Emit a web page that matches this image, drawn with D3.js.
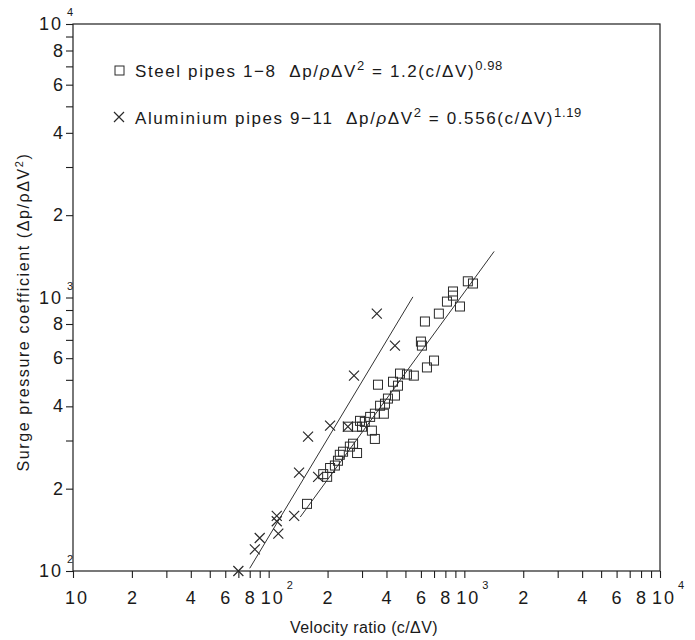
<!DOCTYPE html>
<html><head><meta charset="utf-8">
<script src="https://cdn.jsdelivr.net/npm/d3@7"></script>
<style>
body{margin:0;background:#fff}
text{font-family:"Liberation Sans",Arial,sans-serif;fill:#1a1a1a}
</style>
</head><body><svg id="c" width="695" height="640"></svg>
<script>
// Steel pipes 1-8 (squares)
const steelX = [157,190,199,206,218,226,231,240,260,270,283,254,283,300,293,310,330,337,349,349,388,371,393,407,442,362,432,458,469,509,552,644,700,600,607,629,741,815,950,875,875,1042,1107];
const steelY = [176,226,221,238,243,253,266,273,285,292,270,337,337,337,354,351,366,326,304,376,376,402,409,427,438,480,492,476,527,523,518,555,588,690,667,817,873,966,927,1052,1016,1146,1125];
// Aluminium pipes 9-11 (crosses)
const aluX = [70,85,90,112,110,110,135,143,179,159,206,254,273,357,442];
const aluY = [100,120,132,137,159,152,159,229,221,310,340,337,518,873,667];
// fitted lines  dp/rho dV^2 = a (c/dV)^b
const steelFit = {a:1.2, b:0.98, from:145, to:1420};
const aluFit = {a:0.556, b:1.19, from:80, to:546};
// tick labels
const xLabelVals = [10,20,40,60,80,100,200,400,600,800,1000,2000,4000,6000,8000,10000];
const xLabelBase = ["10","2","4","6","8","10","2","4","6","8","10","2","4","6","8","10"];
const xLabelExp  = ["","","","","","2","","","","","3","","","","","4"];
const yLabelVals = [100,200,400,600,800,1000,2000,4000,6000,8000,10000];
const yLabelBase = ["10","2","4","6","8","10","2","4","6","8","10"];
const yLabelExp  = ["2","","","","","3","","","","","4"];

const svg = d3.select("#c");
const L=73, R=660, T=24, B=571;
const x = d3.scaleLog().domain([10,10000]).range([L,R]);
const y = d3.scaleLog().domain([100,10000]).range([B,T]);
const ink="#1f1f1f";

const allTicks=[];
for(let d=10; d<10000; d*=10) for(let m=1;m<10;m++) allTicks.push(d*m);
allTicks.push(10000);
const yTicks = allTicks.filter(v=>v>=100);

const gx = svg.append("g").attr("transform",`translate(0,${B})`)
  .call(d3.axisBottom(x).tickValues(allTicks).tickSize(7).tickFormat(""));
const gy = svg.append("g").attr("transform",`translate(${L},0)`)
  .call(d3.axisLeft(y).tickValues(yTicks).tickSize(7).tickFormat(""));
[gx,gy].forEach(g=>{g.selectAll("path").remove(); g.selectAll("line").attr("stroke",ink).attr("stroke-width",1.1);});

// frame
svg.append("rect").attr("x",L).attr("y",T).attr("width",R-L).attr("height",B-T)
  .attr("fill","none").attr("stroke",ink).attr("stroke-width",1.2);

// x tick labels
xLabelVals.forEach((v,i)=>{
  const px = x(v) + (xLabelBase[i]==="10"?4:0);
  svg.append("text").attr("x",px).attr("y",604).attr("text-anchor","middle")
    .attr("font-size",18).attr("letter-spacing",xLabelBase[i]==="10"?2:0).text(xLabelBase[i]);
  if(xLabelExp[i]) svg.append("text").attr("x",px+14).attr("y",589).attr("font-size",11).text(xLabelExp[i]);
});
// y tick labels
yLabelVals.forEach((v,i)=>{
  const py = y(v);
  svg.append("text").attr("x",63).attr("y",py+6).attr("text-anchor","end")
    .attr("font-size",18).attr("letter-spacing",yLabelBase[i]==="10"?2:0).text(yLabelBase[i]);
  if(yLabelExp[i]) svg.append("text").attr("x",67).attr("y",py-8).attr("font-size",11).text(yLabelExp[i]);
});

// axis titles
svg.append("text").attr("x",364).attr("y",633).attr("text-anchor","middle")
  .attr("font-size",16).attr("letter-spacing",0.4).text("Velocity ratio (c/ΔV)");
const yt = svg.append("text").attr("transform","translate(29,312) rotate(-90)")
  .attr("text-anchor","middle").attr("font-size",16).attr("letter-spacing",1.6);
yt.append("tspan").text("Surge pressure coefficient (Δp/ρΔV");
yt.append("tspan").attr("font-size",11).attr("dy",-6).text("2");
yt.append("tspan").attr("dy",6).text(")");

// fit lines
function fitLine(f){
  const xs=[f.from,f.to];
  return xs.map(v=>[x(v), y(f.a*Math.pow(v,f.b))]);
}
const line=d3.line();
[steelFit,aluFit].forEach(f=>{
  svg.append("path").attr("d",line(fitLine(f))).attr("fill","none").attr("stroke","#333").attr("stroke-width",1);
});

// markers
const sq=9;
svg.append("g").selectAll("rect").data(steelX.map((v,i)=>[v,steelY[i]])).join("rect")
  .attr("x",d=>x(d[0])-sq/2).attr("y",d=>y(d[1])-sq/2).attr("width",sq).attr("height",sq)
  .attr("fill","none").attr("stroke","#2a2a2a").attr("stroke-width",1);
const cr=5;
svg.append("g").selectAll("path").data(aluX.map((v,i)=>[v,aluY[i]])).join("path")
  .attr("d",d=>{const cx=x(d[0]),cy=y(d[1]);return `M${cx-cr},${cy-cr}L${cx+cr},${cy+cr}M${cx-cr},${cy+cr}L${cx+cr},${cy-cr}`;})
  .attr("fill","none").attr("stroke","#2a2a2a").attr("stroke-width",1.2);

// legend
svg.append("rect").attr("x",115).attr("y",66).attr("width",9).attr("height",9)
  .attr("fill","none").attr("stroke","#2a2a2a").attr("stroke-width",1);
svg.append("path").attr("d","M114,112L124,122M114,122L124,112").attr("stroke","#2a2a2a").attr("stroke-width",1.2);

function legendText(yb, label, coef, expo){
  const t = svg.append("text").attr("x",135).attr("y",yb).attr("font-size",17)
    .attr("letter-spacing",1.6).style("white-space","pre");
  t.append("tspan").text(label+"  Δp/");
  t.append("tspan").attr("font-style","italic").text("ρ");
  t.append("tspan").text("ΔV");
  t.append("tspan").attr("font-size",13).attr("dy",-7).text("2");
  t.append("tspan").attr("dy",7).text(" = "+coef+"(c/ΔV)");
  t.append("tspan").attr("font-size",13).attr("dy",-7).attr("letter-spacing",0.6).text(expo);
}
legendText(77,"Steel pipes 1−8","1.2","0.98");
legendText(124,"Aluminium pipes 9−11","0.556","1.19");
</script></body></html>
